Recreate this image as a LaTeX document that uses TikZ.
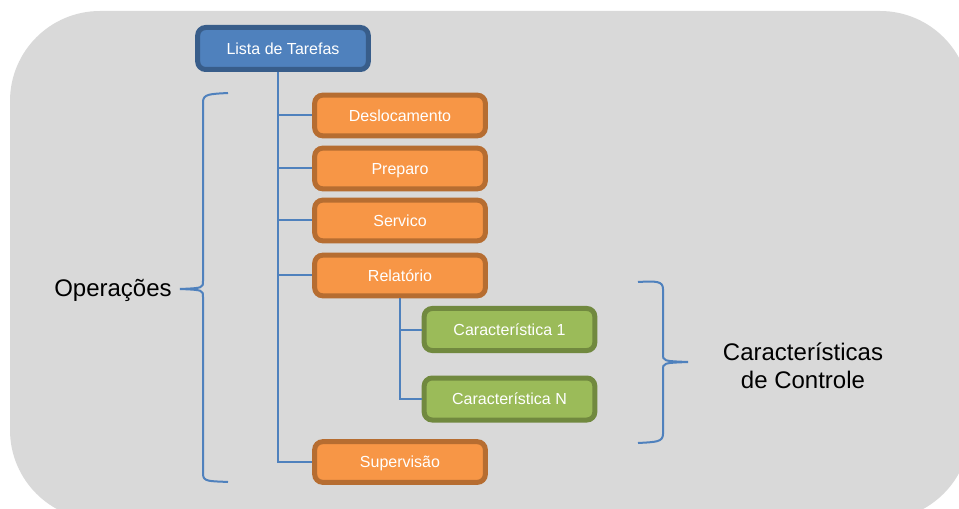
\documentclass[tikz,border=0pt]{standalone}
\usepackage{fontspec}
\setmainfont{Liberation Sans}
\usetikzlibrary{calc}

\definecolor{bggray}{HTML}{D9D9D9}
\definecolor{blfill}{HTML}{4F81BD}
\definecolor{bldraw}{HTML}{385D8A}
\definecolor{orfill}{HTML}{F79646}
\definecolor{ordraw}{HTML}{B66D31}
\definecolor{grfill}{HTML}{9BBB59}
\definecolor{grdraw}{HTML}{71893F}
\definecolor{lnblue}{HTML}{4F81BD}

\begin{document}
\begin{tikzpicture}[x=0.75pt,y=-0.75pt]

\tikzset{task/.style = {shape=rectangle,rounded corners=6pt,line width=3.75pt,minimum width=128pt,minimum height=30.5pt,text height=2ex,text depth=0.3ex,text=white,font=\fontsize{12}{14}\selectfont}}
\tikzset{top/.style = {task,fill=blfill,draw=bldraw,minimum height=31.5pt}}
\tikzset{oper/.style = {task,fill=orfill,draw=ordraw}}
\tikzset{feat/.style = {task,fill=grfill,draw=grdraw,minimum height=31.5pt}}
\tikzset{edge/.style = {draw=lnblue,line width=1.5pt}}
\tikzset{brace/.style = {draw=lnblue,line width=1.5pt}}

\useasboundingbox (0,0) rectangle (959,509);
\clip (0,0) rectangle (959,509);

% background
\fill[bggray,rounded corners=67.5pt] (10,11) rectangle (970,520);

% vertices
\node[top]  (lista)  at (283,48.5) {Lista de Tarefas};
\node[oper] (desl)   at (400,115.5) {Deslocamento};
\node[oper] (prep)   at (400,168.5) {Preparo};
\node[oper] (serv)   at (400,220.5) {Servico};
\node[oper] (rel)    at (400,275.5) {Relatório};
\node[feat] (carA)   at (509.5,329.5) {Característica 1};
\node[feat] (carN)   at (509.5,399) {Característica N};
\node[oper] (superv) at (400,462) {Supervisão};

\node (oper) at (113,290) {\fontsize{18}{21}\selectfont Operações};
\node[align=center,font=\fontsize{18}{21}\selectfont] (ctrl) at (803,366) {Características\\de Controle};

%edges
\coordinate (trunk) at ([xshift=-3.75pt]lista.south);
\draw[edge] (trunk) |- (superv.west);
\draw[edge] (desl.west -| trunk) -- (desl.west);
\draw[edge] (prep.west -| trunk) -- (prep.west);
\draw[edge] (serv.west -| trunk) -- (serv.west);
\draw[edge] (rel.west -| trunk) -- (rel.west);
\draw[edge] (rel.south) |- (carN.west);
\draw[edge] (carA.west -| rel.south) -- (carA.west);

% braces
\draw[brace] (228,93) .. controls (210,94) and (203,94) .. (203,102) -- (203,281)
  .. controls (203,288) .. (180,289) .. controls (203,290) .. (203,297)
  -- (203,474) .. controls (203,482) and (210,481) .. (228,482);
\draw[brace] (638,282) .. controls (656,281) and (663,281) .. (663,289) -- (663,354)
  .. controls (663,361) .. (688,362) .. controls (663,363) .. (663,370)
  -- (663,434) .. controls (663,442) and (656,442) .. (638,443);

\end{tikzpicture}
\end{document}
